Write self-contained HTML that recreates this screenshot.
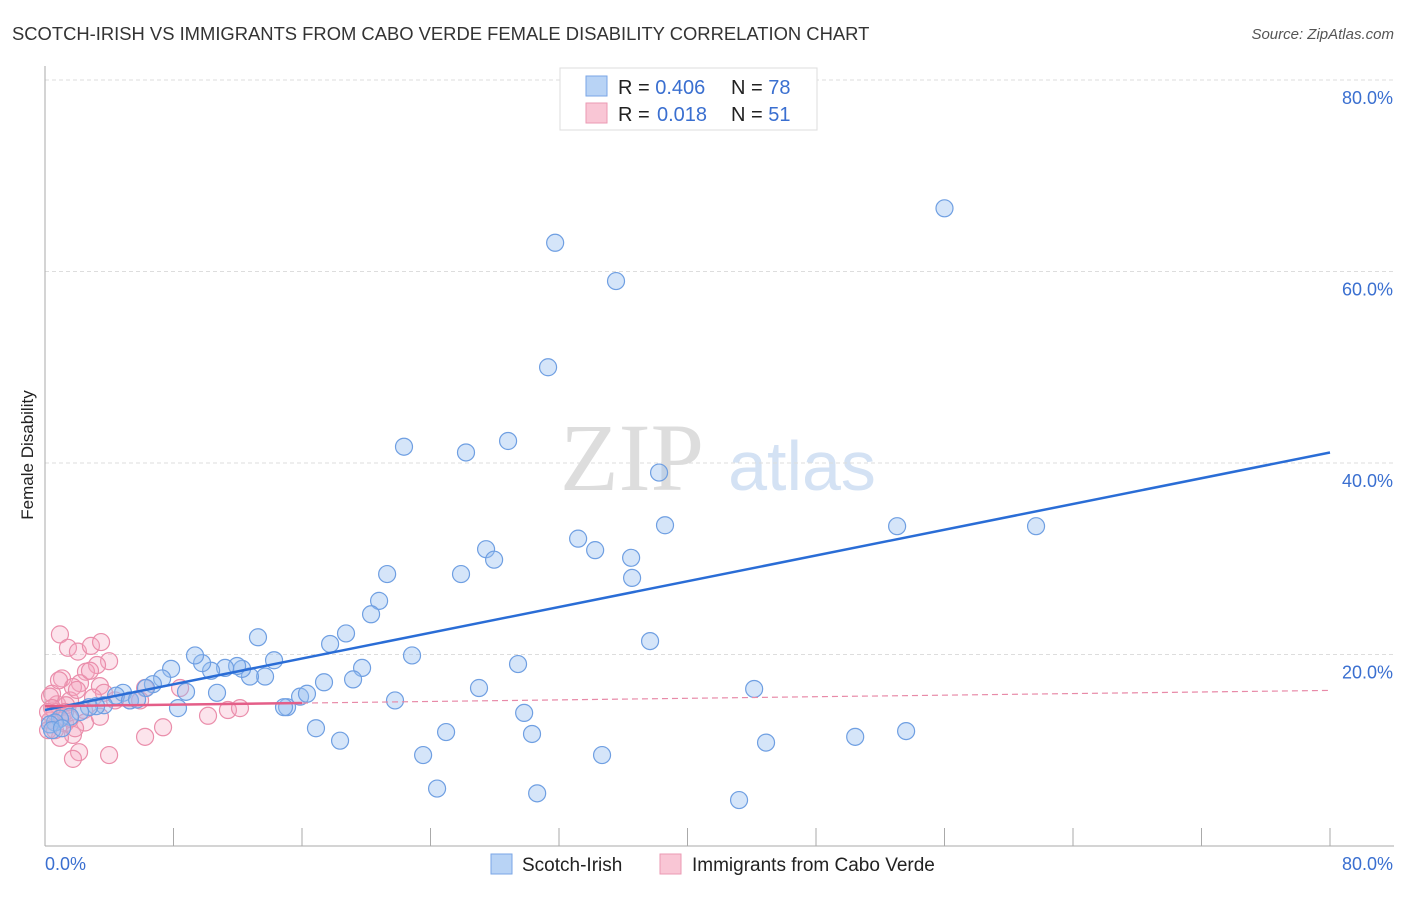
<!DOCTYPE html>
<html><head><meta charset="utf-8"><style>
body{margin:0;background:#fff;font-family:"Liberation Sans",sans-serif;}
</style></head><body>
<svg id="chart" width="1406" height="892" xmlns="http://www.w3.org/2000/svg">
<text x="12" y="40" font-size="18.4" fill="#333">SCOTCH-IRISH VS IMMIGRANTS FROM CABO VERDE FEMALE DISABILITY CORRELATION CHART</text>
<text x="1394" y="39" font-size="15" fill="#555" font-style="italic" text-anchor="end">Source: ZipAtlas.com</text>
<text x="0" y="0" transform="translate(33,455) rotate(-90)" font-size="17" fill="#222" text-anchor="middle">Female Disability</text>
<g><text x="632" y="490" font-size="96" font-family="Liberation Serif,serif" fill="#ddd" text-anchor="middle">ZIP</text><text x="802" y="490" font-size="70" fill="#d4e2f4" text-anchor="middle">atlas</text></g>
<g id="grid"></g><g id="axes"></g><g id="pts"></g><g id="trends"></g>
<g>
<rect x="560" y="68" width="257" height="62" fill="#fff" stroke="#ddd"/>
<rect x="586" y="76" width="21" height="20" fill="#b8d3f5" stroke="#7aa6e6"/>
<rect x="586" y="103" width="21" height="20" fill="#f9c6d5" stroke="#eb9ab3"/>
<text x="618" y="94" font-size="20" fill="#222">R = <tspan fill="#3a6fd0">0.406</tspan><tspan x="731">N = </tspan><tspan fill="#3a6fd0">78</tspan></text>
<text x="618" y="121" font-size="20" fill="#222">R = <tspan x="657" fill="#3a6fd0">0.018</tspan><tspan x="731">N = </tspan><tspan fill="#3a6fd0">51</tspan></text>
</g>
<g>
<rect x="491" y="854" width="21" height="20" fill="#b8d3f5" stroke="#7aa6e6"/>
<text x="522" y="871" font-size="19" fill="#222">Scotch-Irish</text>
<rect x="660" y="854" width="21" height="20" fill="#f9c6d5" stroke="#eb9ab3"/>
<text x="692" y="871" font-size="19" fill="#222">Immigrants from Cabo Verde</text>
</g>
</svg>
<script>
const blueX=[56.0,31.76,35.55,31.32,22.35,26.21,28.83,38.23,38.6,53.05,61.7,33.19,34.25,27.46,27.96,36.49,36.55,25.9,21.3,20.8,20.3,18.74,17.75,13.26,37.67,22.85,29.45,19.74,19.18,14.26,13.7,12.76,12.27,11.96,11.21,10.34,9.78,9.34,7.85,7.29,6.72,6.29,4.86,4.42,8.78,10.71,5.29,5.73,3.67,3.18,8.28,15.07,14.88,15.88,16.31,17.37,21.79,27.02,44.15,29.83,30.32,24.97,16.87,18.37,23.54,34.68,44.89,50.44,53.61,24.41,30.64,43.21,2.74,2.18,1.56,0.93,0.62,0.31,0.44,1.06];
const blueY=[66.6,63.0,59.0,50.0,41.7,41.1,42.3,39.0,33.5,33.4,33.4,32.1,30.9,31.0,29.9,30.1,28.0,28.4,28.4,25.6,24.2,22.2,21.1,21.8,21.4,19.9,19.0,18.6,17.4,19.4,17.7,17.7,18.5,18.8,18.6,18.3,19.1,19.9,18.5,17.5,16.9,16.5,16.0,15.7,16.1,16.0,15.2,15.3,14.7,14.6,14.4,14.5,14.5,15.6,15.9,17.1,15.2,16.5,16.4,13.9,11.7,11.9,12.3,11.0,9.5,9.5,10.8,11.4,12.0,6.0,5.5,4.8,14.5,14.0,13.5,13.3,12.9,12.7,12.1,12.3];
const pinkX=[0.93,1.43,2.05,2.86,3.49,3.99,3.24,2.55,1.06,2.18,1.74,0.44,0.75,3.42,6.23,5.29,3.67,2.99,2.43,1.56,0.62,0.31,1.25,1.74,0.93,2.49,3.42,4.36,5.92,8.41,6.23,7.35,10.15,11.39,12.14,2.12,3.99,1.74,0.31,0.19,0.62,1.06,1.87,1.31,0.87,2.8,1.99,1.25,0.44,1.56,0.19];
const pinkY=[22.1,20.7,20.3,20.9,21.3,19.3,18.9,18.2,17.5,17.0,16.6,15.9,14.8,16.7,16.5,15.2,16.0,15.5,14.2,15.2,14.0,13.1,12.8,11.6,11.3,12.9,13.5,15.2,15.2,16.5,11.4,12.4,13.6,14.2,14.4,9.8,9.5,9.1,15.6,12.1,12.1,13.5,12.3,14.7,17.3,18.3,16.3,14.0,14.4,13.3,14.0];
const blueTrend=[14.2,41.1];
const pinkTrend=[14.6,16.25];
const yTicks=[20,40,60,80];
const xTickLabels=["0.0%","80.0%"];
const NS="http://www.w3.org/2000/svg";
const X0=45,X1=1330,Y0=846,Y80=80;
const xs=v=>X0+(X1-X0)*v/80;
const ys=v=>Y0-(Y0-Y80)*v/80;
function el(t,a,p){const e=document.createElementNS(NS,t);for(const k in a)e.setAttribute(k,a[k]);document.getElementById(p).appendChild(e);return e;}
yTicks.forEach(t=>{
 const l=el('line',{x1:X0,x2:1394,y1:ys(t),y2:ys(t),stroke:'#ddd','stroke-dasharray':'4,3'},'grid');
 
 
 const tx=el('text',{x:1393,y:ys(t)+24,'font-size':18,fill:'#3a6fd0','text-anchor':'end'},'grid');
 tx.textContent=t.toFixed(1)+'%';
 
 
});
const ax=el('line',{x1:X0,x2:X0,y1:66,y2:Y0,stroke:'#aaa'},'axes');


const bx=el('line',{x1:X0,x2:1394,y1:Y0,y2:Y0,stroke:'#aaa'},'axes');


for(let i=0;i<=10;i++){
 const t=el('line',{x1:xs(i*8),x2:xs(i*8),y1:828,y2:Y0,stroke:'#aaa'},'axes');
 
 
}
const xl0=el('text',{x:45,y:870,'font-size':18,fill:'#3a6fd0'},'axes');xl0.textContent=xTickLabels[0];


const xl1=el('text',{x:1393,y:870,'font-size':18,fill:'#3a6fd0','text-anchor':'end'},'axes');xl1.textContent=xTickLabels[1];


pinkX.forEach((v,i)=>{
 const c=el('circle',{cx:xs(v),cy:ys(pinkY[i]),r:8.5,fill:'rgba(246,166,192,0.3)',stroke:'#ea8eab','stroke-width':1.2},'pts');
 
 
});
blueX.forEach((v,i)=>{
 const c=el('circle',{cx:xs(v),cy:ys(blueY[i]),r:8.5,fill:'rgba(150,190,240,0.4)',stroke:'#6f9fe2','stroke-width':1.2},'pts');
 
 
});
const bt=el('line',{x1:xs(0),y1:ys(blueTrend[0]),x2:xs(80),y2:ys(blueTrend[1]),stroke:'#2a6dd6','stroke-width':2.5},'trends');


const pm=v=>pinkTrend[0]+(pinkTrend[1]-pinkTrend[0])*v/80;
const pt=el('line',{x1:xs(0),y1:ys(pinkTrend[0]),x2:xs(16),y2:ys(pm(16)),stroke:'#e45e88','stroke-width':2.5},'trends');


const pd=el('line',{x1:xs(16),y1:ys(pm(16)),x2:xs(80),y2:ys(pinkTrend[1]),stroke:'#e88aa8','stroke-width':1.2,'stroke-dasharray':'6,4'},'trends');


</script>
</body></html>
